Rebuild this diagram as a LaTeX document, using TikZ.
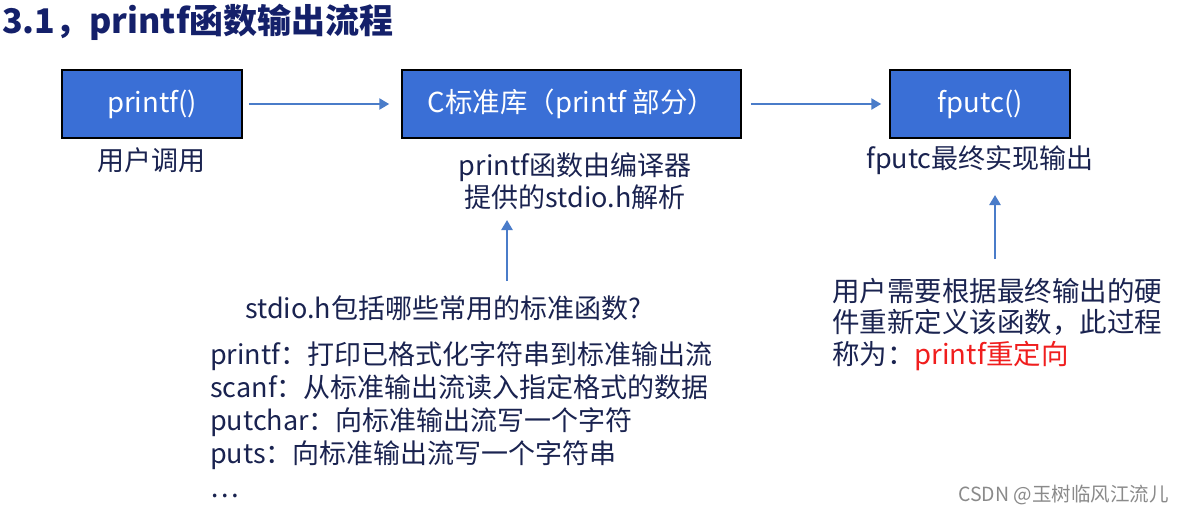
\documentclass[tikz,border=0pt]{standalone}
\usepackage{fontspec}
\setmainfont{Noto Sans CJK SC}
\usetikzlibrary{arrows.meta}
\definecolor{boxblue}{HTML}{3A6FD6}
\definecolor{arrblue}{HTML}{4A7CC9}
\definecolor{ink}{HTML}{1A2350}
\definecolor{titleink}{HTML}{14206A}
\definecolor{redink}{HTML}{F01E1E}
\definecolor{wmgray}{HTML}{8A8A8A}
\begin{document}
\begin{tikzpicture}[x=1pt,y=-1pt,
  fbox/.style={draw=black,line width=1.5pt,fill=boxblue,text=white,inner sep=0pt,
    font=\fontsize{27.5}{30}\selectfont},
  lbl/.style={text=ink,inner sep=0pt,font=\fontsize{27}{32}\selectfont},
  arr/.style={draw=arrblue,line width=2.8pt,-{Triangle[length=10pt,width=11pt]}}]
\useasboundingbox (0,0) rectangle (1185,515);
\fill[white] (0,0) rectangle (1185,515);
\node[anchor=west,text=titleink,inner sep=0pt,font=\fontsize{34}{38}\selectfont\bfseries] (title) at (2,22) {3.1，printf函数输出流程};
\node[fbox,minimum width=180pt,minimum height=68pt] (b1) at (152,104) {printf()};
\node[fbox,minimum width=339pt,minimum height=68pt] (b2) at (571.5,104) {C标准库（printf 部分）};
\node[fbox,minimum width=180pt,minimum height=68pt] (b3) at (980,104) {fputc()};
\draw[arr] ([xshift=6pt]b1.east) -- ([xshift=-12pt]b2.west);
\draw[arr] ([xshift=9pt]b2.east) -- ([xshift=-8pt]b3.west);
\node[lbl] (l1) at (151,160) {用户调用};
\node[lbl,align=center] (l2) at (575,181) {printf函数由编译器\\提供的stdio.h解析};
\node[lbl] (l3) at (980,160) {fputc最终实现输出};
\coordinate (a1s) at (507,281);
\coordinate (a1e) at (507,220);
\draw[arr] (a1s) -- (a1e);
\coordinate (a2s) at (995,259);
\coordinate (a2e) at (995,195);
\draw[arr] (a2s) -- (a2e);
\node[lbl,anchor=west] (q) at (245,308) {stdio.h包括哪些常用的标准函数?};
\node[lbl,anchor=north west,align=left,font=\fontsize{27}{33.3}\selectfont] (list) at (210,341)
  {printf：打印已格式化字符串到标准输出流\\scanf：从标准输出流读入指定格式的数据\\putchar：向标准输出流写一个字符\\puts：向标准输出流写一个字符串\\…};
\node[lbl,anchor=north west,align=left,font=\fontsize{27.5}{31.5}\selectfont] (r) at (832,278)
  {用户需要根据最终输出的硬\\件重新定义该函数，此过程\\称为：\textcolor{redink}{printf重定向}};
\node[anchor=west,text=wmgray,inner sep=0pt,font=\fontsize{19.5}{22}\selectfont] (wm) at (958,495) {CSDN @玉树临风江流儿};
\end{tikzpicture}
\end{document}
